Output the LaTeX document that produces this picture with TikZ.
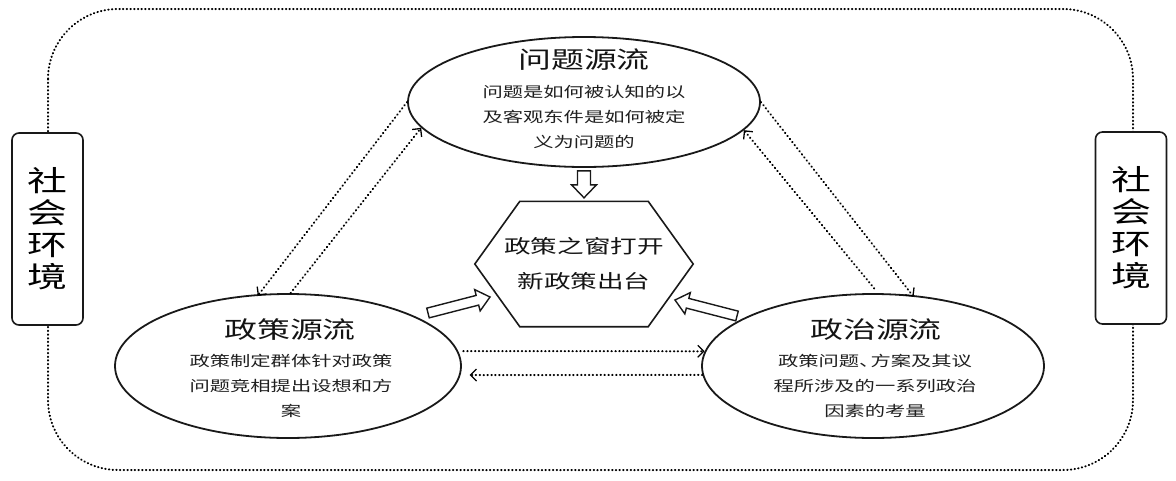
\documentclass[tikz,border=0pt]{standalone}
\usepackage{fontspec}
\setmainfont{Noto Sans CJK SC}[FakeStretch=1.4]
\usetikzlibrary{shapes.geometric,arrows.meta,calc}
\tikzset{
 stream/.style={ellipse, draw=black!90, line width=1.8pt, inner sep=0pt},
 ttl/.style={font=\fontsize{23.5}{28}\selectfont, text=black!92, inner sep=0pt},
 bodytext/.style={font=\fontsize{14.5}{25}\selectfont, align=center, text=black!88, inner sep=0pt},
 envbox/.style={draw=black!90, fill=white, line width=1.6pt, rounded corners=7pt, minimum width=71pt, minimum height=192pt, align=center, font=\fontsize{28.5}{32}\selectfont, inner sep=0pt},
 dotline/.style={line width=2pt, dash pattern=on 0.5pt off 3.4pt, line cap=round, -{Straight Barb[length=6pt,width=12pt,line width=1.3pt]}},
 envline/.style={line width=2pt, dash pattern=on 0.5pt off 3.2pt, line cap=round},
 hollowarrow/.style={draw=black!90, fill=white, line width=1.4pt, line join=miter},
}
\newcommand\hollowarr[5]{%
  \coordinate (ha-h) at ($(#2)!#5!(#1)$);
  \draw[hollowarrow] ($(#1)!#3!90:(#2)$) -- ($(ha-h)!#3!90:(#2)$) -- ($(ha-h)!#4!90:(#2)$) -- (#2) -- ($(ha-h)!#4!-90:(#2)$) -- ($(ha-h)!#3!-90:(#2)$) -- ($(#1)!#3!-90:(#2)$) -- cycle;
}
\begin{document}
\begin{tikzpicture}[x=1pt,y=-1pt]
\useasboundingbox (0,0) rectangle (1176,480);
% environment border
\draw[envline, rounded corners=70pt] (48,9) rectangle (1133,470);
\node[envbox] (envL) at (47.5,229) {社\\会\\环\\境};
\node[envbox] (envR) at (1131,228) {社\\会\\环\\境};
% streams
\node[stream, minimum width=352pt, minimum height=130pt] (prob) at (584,102) {};
\node[stream, minimum width=346pt, minimum height=144pt] (pol) at (288,366) {};
\node[stream, minimum width=342pt, minimum height=144pt] (polit) at (873,366) {};
\node[ttl] (probT) at (584,60) {问题源流};
\node[bodytext] (probB) at (584,117) {问题是如何被认知的以\\及客观东件是如何被定\\义为问题的};
\node[ttl] (polT) at (290,330) {政策源流};
\node[bodytext] (polB) at (291,386) {政策制定群体针对政策\\问题竞相提出设想和方\\案};
\node[ttl] (politT) at (876,330) {政治源流};
\node[bodytext] (politB) at (875,386) {政策问题、\kern-9pt 方案及其议\\程所涉及的一系列政治\\因素的考量};
% window
\node[minimum width=218pt, minimum height=125pt, inner sep=0pt, align=center,
      font=\fontsize{19}{35}\selectfont, text=black!92] (win) at (584,264) {政策之窗打开\\新政策出台};
\draw[line width=1.6pt, draw=black!90, line join=miter] (win.west) -- ([xshift=45pt]win.north west) -- ([xshift=-45pt]win.north east) -- (win.east) -- ([xshift=-45pt]win.south east) -- ([xshift=45pt]win.south west) -- cycle;
% hollow arrows
\coordinate (da1) at ([yshift=-3pt]prob.south);
\coordinate (da2) at ([yshift=3.5pt]win.north);
\hollowarr{da1}{da2}{6.5pt}{12.5pt}{13pt}
\coordinate (la1) at (428,313);
\coordinate (la2) at (490,297);
\hollowarr{la1}{la2}{5pt}{11pt}{13pt}
\coordinate (ra1) at (737,316);
\coordinate (ra2) at (675,300);
\hollowarr{ra1}{ra2}{5pt}{11pt}{13pt}
% dotted arrows
\draw[dotline, shorten >=-2pt] (prob.180) -- (pol.112);
\draw[dotline] (pol.88) -- (prob.189);
\draw[dotline, shorten >=-2pt] (prob.0) -- (polit.61);
\draw[dotline, shorten <=6pt] (polit.86) -- (prob.350);
\draw[dotline, shorten <=5pt] (pol.5) -- (polit.175);
\draw[dotline, shorten >=9pt] (polit.183) -- (pol.357);
\end{tikzpicture}
\end{document}
